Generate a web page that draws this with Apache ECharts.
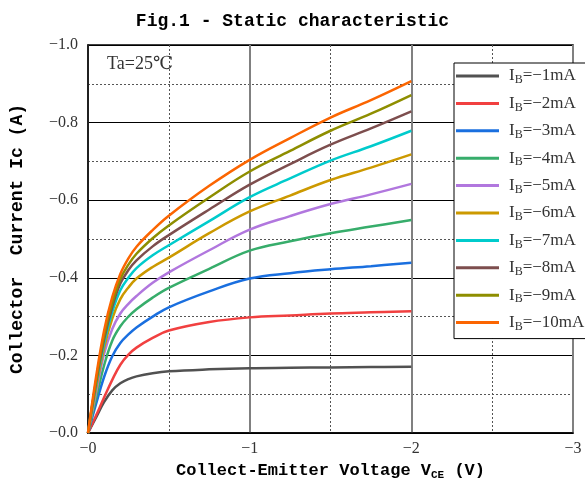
<!DOCTYPE html>
<html>
<head>
<meta charset="utf-8">
<script src="https://cdn.jsdelivr.net/npm/echarts@6/dist/echarts.min.js"></script>
<style>html,body{margin:0;padding:0;background:#fff}#c{width:585px;height:491px}</style>
</head>
<body>
<div id="c"></div>
<script>
// Collector-emitter voltage (V)
const vce = [0, -0.05, -0.1, -0.15, -0.2, -0.25, -0.3, -0.4, -0.5, -0.75, -1.0, -1.25, -1.5, -1.75, -2.0];
// Collector current Ic (A) for each base current
const ib1  = [0, -0.040, -0.080, -0.110, -0.128, -0.139, -0.146, -0.154, -0.159, -0.164, -0.167, -0.168, -0.169, -0.170, -0.171];
const ib2  = [0, -0.045, -0.092, -0.137, -0.176, -0.202, -0.220, -0.245, -0.264, -0.286, -0.298, -0.303, -0.308, -0.311, -0.314];
const ib3  = [0, -0.075, -0.145, -0.198, -0.232, -0.254, -0.272, -0.300, -0.324, -0.365, -0.398, -0.412, -0.422, -0.430, -0.439];
const ib4  = [0, -0.090, -0.175, -0.238, -0.275, -0.300, -0.319, -0.349, -0.374, -0.423, -0.470, -0.494, -0.515, -0.532, -0.549];
const ib5  = [0, -0.105, -0.205, -0.268, -0.308, -0.333, -0.353, -0.387, -0.414, -0.471, -0.524, -0.559, -0.590, -0.615, -0.642];
const ib6  = [0, -0.115, -0.220, -0.295, -0.345, -0.375, -0.398, -0.428, -0.452, -0.515, -0.571, -0.612, -0.652, -0.684, -0.718];
const ib7  = [0, -0.125, -0.232, -0.312, -0.368, -0.400, -0.425, -0.458, -0.484, -0.546, -0.608, -0.656, -0.702, -0.739, -0.779];
const ib8  = [0, -0.130, -0.242, -0.325, -0.385, -0.420, -0.445, -0.481, -0.510, -0.576, -0.640, -0.693, -0.743, -0.785, -0.829];
const ib9  = [0, -0.135, -0.252, -0.335, -0.397, -0.434, -0.462, -0.502, -0.535, -0.607, -0.674, -0.727, -0.779, -0.823, -0.871];
const ib10 = [0, -0.145, -0.265, -0.350, -0.410, -0.450, -0.480, -0.523, -0.560, -0.637, -0.704, -0.760, -0.813, -0.858, -0.907];
const ibLabels = ['-1', '-2', '-3', '-4', '-5', '-6', '-7', '-8', '-9', '-10'];
const currents = [ib1, ib2, ib3, ib4, ib5, ib6, ib7, ib8, ib9, ib10];
const colors = ['#515151', '#f14040', '#1a6fdf', '#37ad6b', '#b177de', '#cc9900', '#00cbcc', '#7d4e4e', '#8e8e00', '#fb6501'];

const serif = "'Liberation Serif', 'DejaVu Serif', serif";
const mono = "'Liberation Mono', 'DejaVu Sans Mono', monospace";
const minus = '\u2212';

const chart = echarts.init(document.getElementById('c'));
const series = currents.map((arr, k) => ({
  name: 'IB=' + ibLabels[k] + 'mA',
  type: 'line',
  smooth: 0.4,
  symbol: 'none',
  showSymbol: false,
  lineStyle: { width: 2.5, color: colors[k] },
  itemStyle: { color: colors[k] },
  data: vce.map((v, i) => [v, arr[i]]),
  z: 3 + k
}));

chart.setOption({
  animation: false,
  title: {
    text: 'Fig.1 - Static characteristic',
    left: 'center',
    top: 7,
    textStyle: { fontFamily: mono, fontSize: 18, fontWeight: 'bold', color: '#000' }
  },
  grid: { left: 87, right: 12, top: 45, bottom: 58, show: true, borderColor: '#000', borderWidth: 1.5, backgroundColor: 'transparent' },
  legend: {
    orient: 'vertical',
    left: 454,
    top: 63,
    icon: 'rect',
    itemWidth: 43,
    itemHeight: 3,
    itemGap: 7.4,
    padding: [3, 40, 6, 2],
    backgroundColor: '#fff',
    borderColor: '#000',
    borderWidth: 1,
    selectedMode: false,
    formatter: function (name) {
      const n = name.replace('IB=', '').replace('mA', '').replace('-', minus);
      return '{i|I}{s|B}{t|=' + n + 'mA}';
    },
    textStyle: {
      padding: [0, 0, 0, 5],
      rich: {
        i: { fontFamily: serif, fontSize: 17, color: '#333', lineHeight: 20 },
        s: { fontFamily: serif, fontSize: 12, color: '#333', lineHeight: 20, verticalAlign: 'bottom', padding: [8, 0, 0, 0] },
        t: { fontFamily: serif, fontSize: 17, color: '#333', lineHeight: 20 }
      }
    },
    data: series.map(s => s.name)
  },
  graphic: [{
    type: 'text',
    left: 107,
    top: 55,
    style: { text: 'Ta=25\u2103', font: "18px " + serif, fill: '#333' },
    z: 100
  }],
  xAxis: {
    type: 'value',
    min: -3, max: 0, interval: 1, inverse: true,
    name: 'Collect-Emitter Voltage V{s|CE} (V)',
    nameLocation: 'middle',
    nameGap: 27,
    nameTextStyle: {
      fontFamily: mono, fontSize: 17, fontWeight: 'bold', color: '#000',
      rich: { s: { fontFamily: mono, fontSize: 11, fontWeight: 'bold', color: '#000', verticalAlign: 'bottom', padding: [9, 0, 0, 0] } }
    },
    axisLine: { show: true, lineStyle: { color: '#000', width: 1.5 } },
    axisTick: { show: false },
    axisLabel: { formatter: v => minus + Math.abs(v), fontFamily: serif, fontSize: 16, color: '#333', margin: 8 },
    splitLine: { show: true, lineStyle: { color: '#808080', width: 2 } },
    minorTick: { show: false, splitNumber: 2 },
    minorSplitLine: { show: true, lineStyle: { color: '#555', width: 1, type: [2, 2] } }
  },
  yAxis: {
    type: 'value',
    min: -1, max: 0, interval: 0.2, inverse: true,
    name: 'Collector  Current Ic (A)',
    nameLocation: 'middle',
    nameGap: 62,
    nameTextStyle: { fontFamily: mono, fontSize: 18, fontWeight: 'bold', color: '#000' },
    axisLine: { show: true, lineStyle: { color: '#000', width: 1.5 } },
    axisTick: { show: false },
    axisLabel: { formatter: v => minus + Math.abs(v).toFixed(1), fontFamily: serif, fontSize: 16, color: '#333', margin: 10 },
    splitLine: { show: true, lineStyle: { color: '#000', width: 1 } },
    minorTick: { show: false, splitNumber: 2 },
    minorSplitLine: { show: true, lineStyle: { color: '#555', width: 1, type: [2, 2] } }
  },
  series: series
});
</script>
</body>
</html>
